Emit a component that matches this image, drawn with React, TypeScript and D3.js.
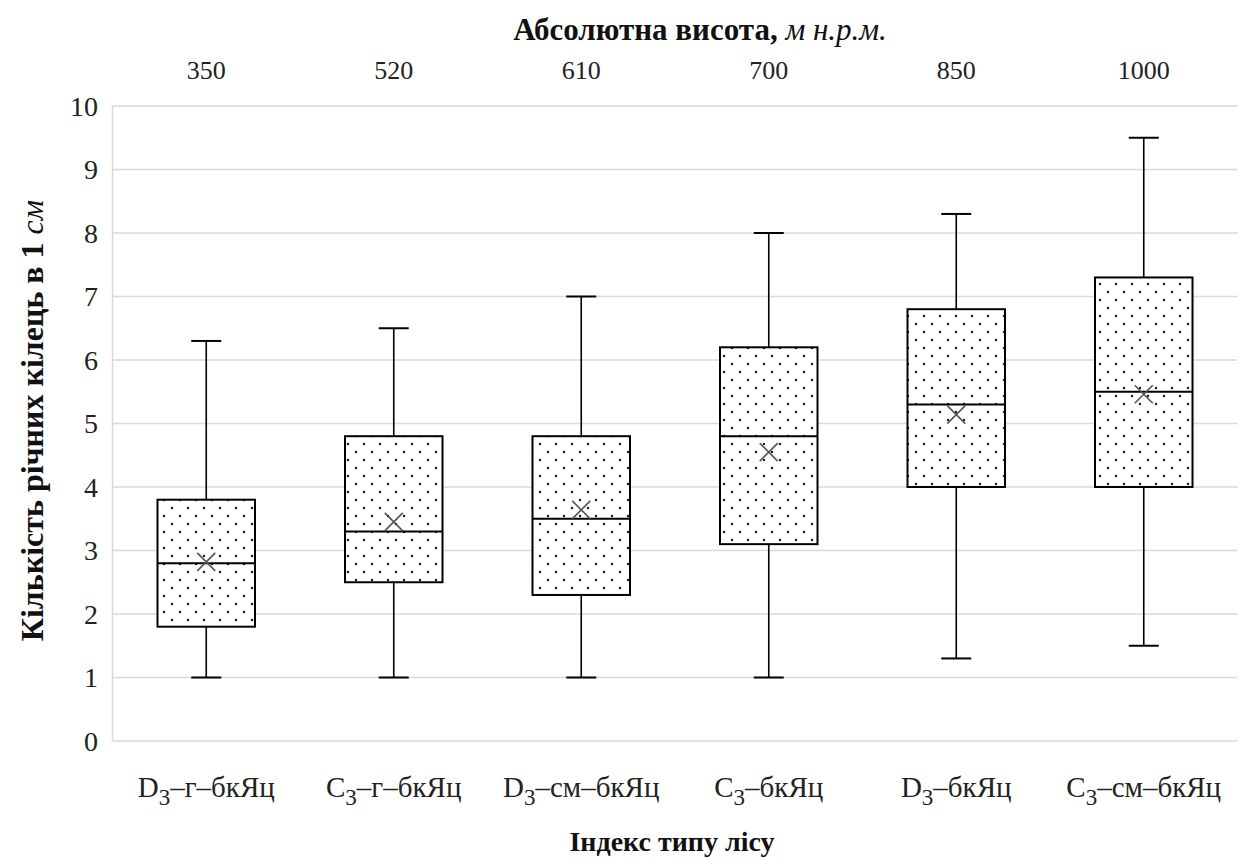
import React from "react";
import * as d3 from "d3";

// Forest type index (category), with subscript digit kept separate
const categoryLetters = ["D", "C", "D", "C", "D", "C"];
const categorySuffix = ["–г–бкЯц", "–г–бкЯц", "–см–бкЯц", "–бкЯц", "–бкЯц", "–см–бкЯц"];
const categories = categoryLetters.map((l, i) => `${l}3${categorySuffix[i]}`);
// Absolute elevation, m a.s.l.
const elevations = ["350", "520", "610", "700", "850", "1000"];

// Box-plot statistics: annual ring count per 1 cm
const whiskerLow = [1.0, 1.0, 1.0, 1.0, 1.3, 1.5];
const quartile1 = [1.8, 2.5, 2.3, 3.1, 4.0, 4.0];
const medians = [2.8, 3.3, 3.5, 4.8, 5.3, 5.5];
const quartile3 = [3.8, 4.8, 4.8, 6.2, 6.8, 7.3];
const whiskerHigh = [6.3, 6.5, 7.0, 8.0, 8.3, 9.5];
const means = [2.82, 3.45, 3.64, 4.55, 5.14, 5.46];

const yTicks = [0, 1, 2, 3, 4, 5, 6, 7, 8, 9, 10];

const W = 1240;
const H = 861;
const serif = '"Liberation Serif", "DejaVu Serif", "Times New Roman", serif';

export default function App() {
  const x = d3.scaleBand<string>().domain(categories).range([112.5, 1237.5]).padding(0);
  const y = d3.scaleLinear().domain([0, 10]).range([741, 106]);
  const boxW = x.bandwidth() * 0.52;
  const capW = 30;
  const grid = "#d9d9d9";

  return (
    <svg
      width={W}
      height={H}
      viewBox={`0 0 ${W} ${H}`}
      style={{ position: "absolute", left: 0, top: 0, background: "#fff", fontFamily: serif }}
    >
      <defs>
        <pattern id="dots" patternUnits="userSpaceOnUse" width={16} height={16}>
          <rect width={16} height={16} fill="#fff" />
          <circle cx={4} cy={4} r={1.25} fill="#222" />
          <circle cx={12} cy={12} r={1.25} fill="#222" />
        </pattern>
      </defs>
      <rect width={W} height={H} fill="#fff" />

      {/* gridlines */}
      {yTicks.map((t) => (
        <line key={t} x1={112.5} x2={1237.5} y1={y(t)} y2={y(t)} stroke={grid} strokeWidth={1.5} />
      ))}
      <line x1={112.5} x2={112.5} y1={y(10)} y2={y(0)} stroke={grid} strokeWidth={1.5} />

      {/* y tick labels */}
      {yTicks.map((t) => (
        <text key={t} x={98} y={y(t)} dy="0.35em" textAnchor="end" fontSize={28} fill="#222">
          {t}
        </text>
      ))}

      {/* boxes */}
      {categories.map((c, i) => {
        const cx = (x(c) as number) + x.bandwidth() / 2;
        const m = 9;
        return (
          <g key={c}>
            <line x1={cx} x2={cx} y1={y(whiskerHigh[i])} y2={y(quartile3[i])} stroke="#000" strokeWidth={1.6} />
            <line x1={cx} x2={cx} y1={y(quartile1[i])} y2={y(whiskerLow[i])} stroke="#000" strokeWidth={1.6} />
            <line x1={cx - capW / 2} x2={cx + capW / 2} y1={y(whiskerHigh[i])} y2={y(whiskerHigh[i])} stroke="#000" strokeWidth={2} />
            <line x1={cx - capW / 2} x2={cx + capW / 2} y1={y(whiskerLow[i])} y2={y(whiskerLow[i])} stroke="#000" strokeWidth={2} />
            <rect
              x={cx - boxW / 2}
              y={y(quartile3[i])}
              width={boxW}
              height={y(quartile1[i]) - y(quartile3[i])}
              fill="url(#dots)"
              stroke="#000"
              strokeWidth={2}
            />
            <line x1={cx - boxW / 2} x2={cx + boxW / 2} y1={y(medians[i])} y2={y(medians[i])} stroke="#000" strokeWidth={2} />
            <path
              d={`M${cx - m},${y(means[i]) - m}L${cx + m},${y(means[i]) + m}M${cx - m},${y(means[i]) + m}L${cx + m},${y(means[i]) - m}`}
              stroke="#555"
              strokeWidth={1.6}
              fill="none"
            />
          </g>
        );
      })}

      {/* bottom category labels */}
      {categories.map((c, i) => {
        const cx = (x(c) as number) + x.bandwidth() / 2;
        return (
          <text key={c} x={cx} y={797} textAnchor="middle" fontSize={29} fill="#222">
            {categoryLetters[i]}
            <tspan fontSize={23} dy={8}>3</tspan>
            <tspan dy={-8}>{categorySuffix[i]}</tspan>
          </text>
        );
      })}

      {/* top elevation labels */}
      {categories.map((c, i) => {
        const cx = (x(c) as number) + x.bandwidth() / 2;
        return (
          <text key={c} x={cx} y={79} textAnchor="middle" fontSize={26} fill="#222">
            {elevations[i]}
          </text>
        );
      })}

      {/* axis titles */}
      <text x={700} y={40} textAnchor="middle" fontSize={31} fontWeight="bold" fill="#111">
        Абсолютна висота, <tspan fontStyle="italic" fontWeight="normal">м н.р.м.</tspan>
      </text>
      <text x={672} y={851} textAnchor="middle" fontSize={28} fontWeight="bold" fill="#111">
        Індекс типу лісу
      </text>
      <text
        transform={`translate(43, ${y(5) - 3}) rotate(-90)`}
        textAnchor="middle"
        fontSize={32}
        fontWeight="bold"
        fill="#111"
      >
        Кількість річних кілець в 1 <tspan fontStyle="italic" fontWeight="normal">см</tspan>
      </text>
    </svg>
  );
}
